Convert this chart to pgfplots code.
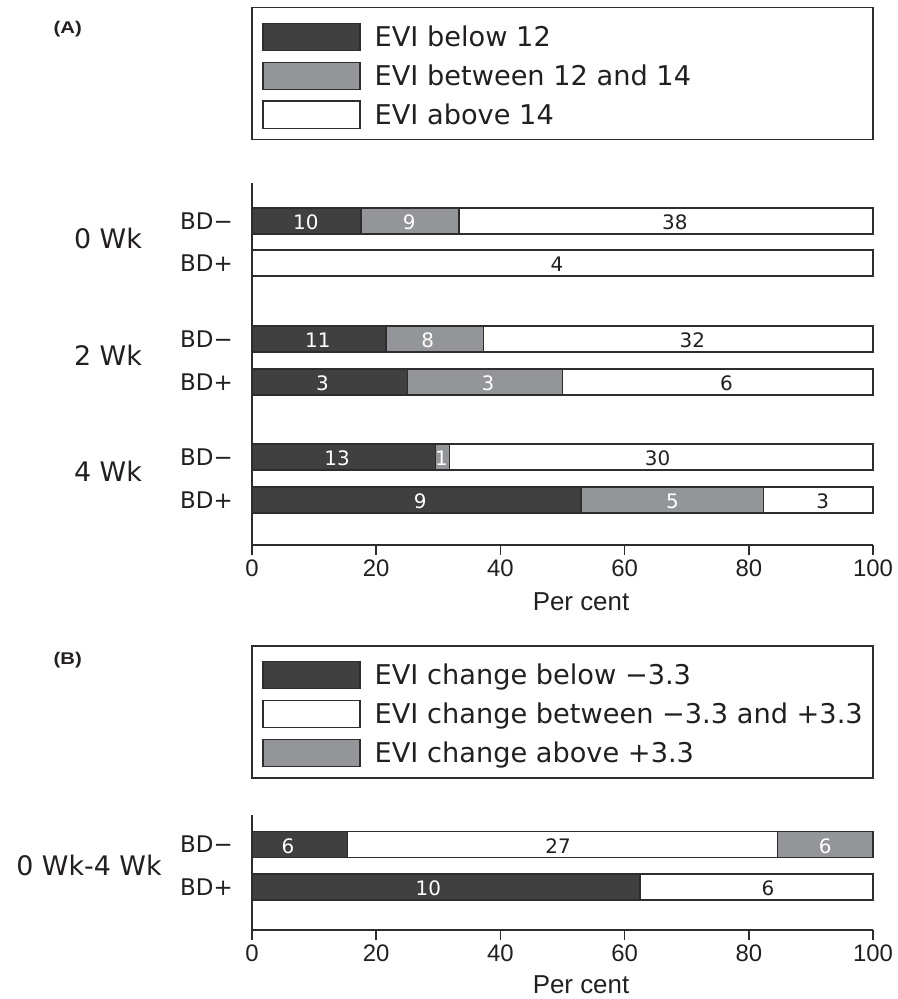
\documentclass[border=0pt]{standalone}
\usepackage{fontspec}
\setmainfont{DejaVu Sans}
\newfontfamily\arial{Liberation Sans}
\usepackage{graphicx}
\usepackage{pgfplots}
\usepackage{pgfplotstable}
\pgfplotsset{compat=1.18}

\definecolor{dk}{RGB}{64,64,64}
\definecolor{md}{RGB}{148,149,152}
\definecolor{ln}{RGB}{45,45,45}
\definecolor{tx}{RGB}{35,31,32}

\newcommand\legfont{\fontsize{27.3}{30}\selectfont}
\newcommand\bdfont{\fontsize{23}{25}\selectfont}
\newcommand\grpfont{\fontsize{27}{30}\selectfont}
\newcommand\numfont{\fontsize{20}{22}\selectfont}
\newcommand\tickfont{\arial\fontsize{24}{26}\selectfont}
\newcommand\perfont{\arial\fontsize{26}{28}\selectfont}
\newcommand\panfont{\arial\bfseries\fontsize{17}{19}\selectfont}

% panel A: percentage of each group
\pgfplotstableread{
y    p1     p2     p3
-221 17.544 15.789 66.667
-263 0      0      100
-339 21.569 15.686 62.745
-382 25     25     50
-457 29.545 2.273  68.182
-500 52.941 29.412 17.647
}\tabA
% counts shown in the bars (position in per cent, row, count)
\pgfplotstableread{
x     y    n
8.66  -221 10
25.3  -221 9
10.6  -339 11
28.3  -339 8
11.35 -382 3
38.0  -382 3
13.7  -457 13
30.5  -457 1
27.1  -500 9
67.7  -500 5
}\labAw
\pgfplotstableread{
x     y    n
68.1  -221 38
49.1  -263 4
70.9  -339 32
76.4  -382 6
65.3  -457 30
91.9  -500 3
}\labAd

% panel B
\pgfplotstableread{
y      p1     p2     p3
-844.5 15.385 69.231 15.385
-887   62.5   37.5   0
}\tabB
\pgfplotstableread{
x     y      n
5.8   -844.5 6
92.3  -844.5 6
28.4  -887   10
}\labBw
\pgfplotstableread{
x     y      n
49.3  -844.5 27
83.1  -887   6
}\labBd

\pgfplotsset{
  geomA/.style={at={(252bp,-545bp)}, anchor=south west, scale only axis,
    width=621bp, height=362bp, xmin=0, xmax=100, ymin=-545, ymax=-183, clip=false},
  geomB/.style={at={(252bp,-930bp)}, anchor=south west, scale only axis,
    width=621bp, height=115bp, xmin=0, xmax=100, ymin=-930, ymax=-815, clip=false},
  panel/.style={
    axis x line*=bottom, axis y line*=left,
    xbar stacked, bar width=26,
    axis line style={draw=ln, line width=1.5bp},
    xtick={0,20,...,100}, tick align=outside, major tick length=10bp,
    xtick style={draw=ln, line width=1.5bp}, ytick style={draw=none},
    /pgf/number format/assume math mode=true,
    xticklabel shift=5bp,
    xticklabel style={font=\tickfont, inner sep=0pt, anchor=north, text=tx},
    yticklabel style={font=\bdfont, inner sep=0pt, anchor=east, xshift=-9bp, text=tx},
    xlabel={Per cent},
    legend cell align=left,
    legend image code/.code={\draw[##1] (0bp,-11.3bp) rectangle (97bp,15.7bp);},
    legend style={draw=none, fill=none, at={(0,1)}, anchor=north west, xshift=10bp,
      inner sep=0pt, row sep=10.3bp, column sep=14bp,
      nodes={inner sep=0pt, text height=18bp, text depth=3bp, font=\legfont, text=tx}},
  },
  labs/.style={draw=none, mark=none,
    nodes near coords, point meta=explicit symbolic,
    nodes near coords style={anchor=center, inner sep=0pt, yshift=-1.5bp, font=\numfont, text=#1}},
}

\begin{document}
\begin{tikzpicture}
\path[use as bounding box] (0,0) rectangle (898bp,-999bp);

% ---------- Panel A ----------
\begin{axis}[geomA, panel,
  ytick={-221,-263,-339,-382,-457,-500},
  yticklabels={BD−,BD+,BD−,BD+,BD−,BD+},
  xlabel style={at={(axis description cs:0.5298,0)}, anchor=base, yshift=-65bp, font=\perfont, text=tx},
  legend style={yshift=160.3bp},
]
\addplot[fill=dk, draw=ln, line width=1.5bp, forget plot] table[x=p1, y=y] {\tabA};
\addplot[fill=md, draw=ln, line width=1.5bp, forget plot] table[x=p2, y=y] {\tabA};
\addplot[fill=white, draw=ln, line width=1.5bp, forget plot] table[x=p3, y=y] {\tabA};
\addlegendimage{fill=dk, draw=ln, line width=1.5bp}
\addlegendimage{fill=md, draw=ln, line width=1.5bp}
\addlegendimage{fill=white, draw=ln, line width=1.5bp}
\legend{EVI below 12, EVI between 12 and 14, EVI above 14}
\end{axis}
\begin{axis}[geomA, hide axis]
\addplot[labs=white] table[x=x, y=y, meta=n] {\labAw};
\addplot[labs=tx] table[x=x, y=y, meta=n] {\labAd};
\end{axis}

% ---------- Panel B ----------
\begin{axis}[geomB, panel,
  ytick={-844.5,-887},
  yticklabels={BD−,BD+},
  xlabel style={at={(axis description cs:0.5298,0)}, anchor=base, yshift=-63bp, font=\perfont, text=tx},
  legend style={yshift=154.3bp},
]
\addplot[fill=dk, draw=ln, line width=1.5bp, forget plot] table[x=p1, y=y] {\tabB};
\addplot[fill=white, draw=ln, line width=1.5bp, forget plot] table[x=p2, y=y] {\tabB};
\addplot[fill=md, draw=ln, line width=1.5bp, forget plot] table[x=p3, y=y] {\tabB};
\addlegendimage{fill=dk, draw=ln, line width=1.5bp}
\addlegendimage{fill=white, draw=ln, line width=1.5bp}
\addlegendimage{fill=md, draw=ln, line width=1.5bp}
\legend{EVI change below −3.3, EVI change between −3.3 and +3.3, EVI change above +3.3}
\end{axis}
\begin{axis}[geomB, hide axis]
\addplot[labs=white] table[x=x, y=y, meta=n] {\labBw};
\addplot[labs=tx] table[x=x, y=y, meta=n] {\labBd};
\end{axis}

% legend frames
\draw[ln, line width=1.5bp] (252bp,-7.3bp) rectangle (873bp,-139.3bp);
\draw[ln, line width=1.5bp] (252bp,-646bp) rectangle (873bp,-778bp);

% panel letters
\node[anchor=base east, inner sep=0pt, text=tx] at (82bp,-33bp) {\scalebox{1.2}[1]{\panfont (A)}};
\node[anchor=base east, inner sep=0pt, text=tx] at (82bp,-664bp) {\scalebox{1.2}[1]{\panfont (B)}};

% group labels
\node[font=\grpfont, anchor=base, inner sep=0pt, text=tx] at (108bp,-248bp) {0 Wk};
\node[font=\grpfont, anchor=base, inner sep=0pt, text=tx] at (108bp,-365bp) {2 Wk};
\node[font=\grpfont, anchor=base, inner sep=0pt, text=tx] at (108bp,-481.7bp) {4 Wk};
\node[font=\grpfont, anchor=base, inner sep=0pt, text=tx] at (89bp,-875bp) {0 Wk-4 Wk};
\end{tikzpicture}
\end{document}
